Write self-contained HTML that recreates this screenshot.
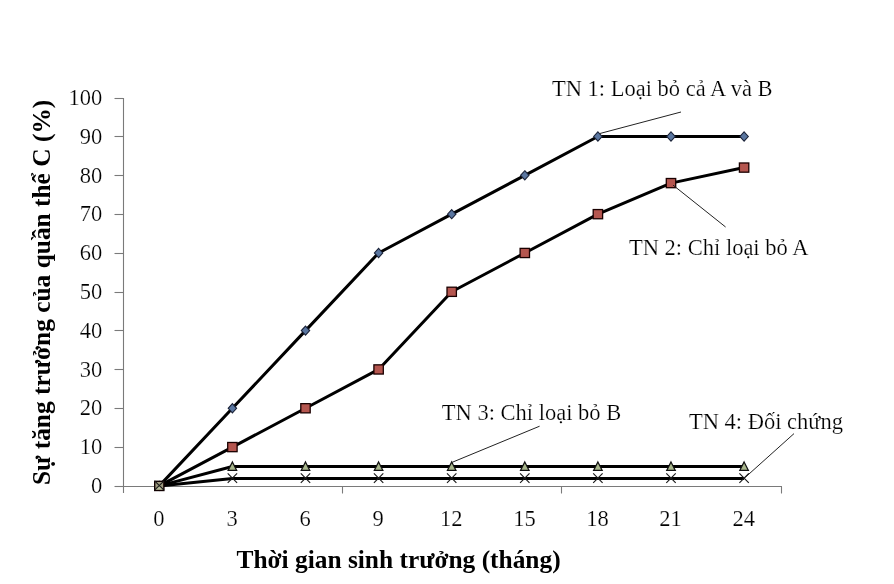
<!DOCTYPE html>
<html><head><meta charset="utf-8"><style>
html,body{margin:0;padding:0;background:#fff;}
body{width:894px;height:584px;overflow:hidden;}
svg{display:block;will-change:transform;font-family:"Liberation Serif",serif;fill:#000;}
text.r{stroke:#fff;stroke-width:0.2px;paint-order:fill stroke;}
</style></head><body>
<svg width="894" height="584" viewBox="0 0 894 584">
<line x1="123.5" y1="98" x2="123.5" y2="493.0" stroke="#7a7a7a" stroke-width="1.1"/>
<line x1="114.5" y1="486.50" x2="123.5" y2="486.50" stroke="#7a7a7a" stroke-width="1.1"/>
<text x="102.3" y="493.00" text-anchor="end" font-size="22.5" class="r">0</text>
<line x1="114.5" y1="447.50" x2="123.5" y2="447.50" stroke="#7a7a7a" stroke-width="1.1"/>
<text x="102.3" y="454.19" text-anchor="end" font-size="22.5" class="r">10</text>
<line x1="114.5" y1="408.50" x2="123.5" y2="408.50" stroke="#7a7a7a" stroke-width="1.1"/>
<text x="102.3" y="415.38" text-anchor="end" font-size="22.5" class="r">20</text>
<line x1="114.5" y1="369.50" x2="123.5" y2="369.50" stroke="#7a7a7a" stroke-width="1.1"/>
<text x="102.3" y="376.57" text-anchor="end" font-size="22.5" class="r">30</text>
<line x1="114.5" y1="330.50" x2="123.5" y2="330.50" stroke="#7a7a7a" stroke-width="1.1"/>
<text x="102.3" y="337.76" text-anchor="end" font-size="22.5" class="r">40</text>
<line x1="114.5" y1="292.50" x2="123.5" y2="292.50" stroke="#7a7a7a" stroke-width="1.1"/>
<text x="102.3" y="298.95" text-anchor="end" font-size="22.5" class="r">50</text>
<line x1="114.5" y1="253.50" x2="123.5" y2="253.50" stroke="#7a7a7a" stroke-width="1.1"/>
<text x="102.3" y="260.14" text-anchor="end" font-size="22.5" class="r">60</text>
<line x1="114.5" y1="214.50" x2="123.5" y2="214.50" stroke="#7a7a7a" stroke-width="1.1"/>
<text x="102.3" y="221.33" text-anchor="end" font-size="22.5" class="r">70</text>
<line x1="114.5" y1="175.50" x2="123.5" y2="175.50" stroke="#7a7a7a" stroke-width="1.1"/>
<text x="102.3" y="182.52" text-anchor="end" font-size="22.5" class="r">80</text>
<line x1="114.5" y1="136.50" x2="123.5" y2="136.50" stroke="#7a7a7a" stroke-width="1.1"/>
<text x="102.3" y="143.71" text-anchor="end" font-size="22.5" class="r">90</text>
<line x1="114.5" y1="98.50" x2="123.5" y2="98.50" stroke="#7a7a7a" stroke-width="1.1"/>
<text x="102.3" y="104.90" text-anchor="end" font-size="22.5" class="r">100</text>
<line x1="123.5" y1="486.5" x2="782" y2="486.5" stroke="#7a7a7a" stroke-width="1.1"/>
<line x1="342.5" y1="486.5" x2="342.5" y2="493.5" stroke="#7a7a7a" stroke-width="1.1"/>
<line x1="561.5" y1="486.5" x2="561.5" y2="493.5" stroke="#7a7a7a" stroke-width="1.1"/>
<line x1="781.5" y1="486.5" x2="781.5" y2="493.5" stroke="#7a7a7a" stroke-width="1.1"/>
<text x="158.90" y="525.5" text-anchor="middle" font-size="22.5" class="r">0</text>
<text x="232.00" y="525.5" text-anchor="middle" font-size="22.5" class="r">3</text>
<text x="305.10" y="525.5" text-anchor="middle" font-size="22.5" class="r">6</text>
<text x="378.20" y="525.5" text-anchor="middle" font-size="22.5" class="r">9</text>
<text x="451.30" y="525.5" text-anchor="middle" font-size="22.5" class="r">12</text>
<text x="524.40" y="525.5" text-anchor="middle" font-size="22.5" class="r">15</text>
<text x="597.50" y="525.5" text-anchor="middle" font-size="22.5" class="r">18</text>
<text x="670.60" y="525.5" text-anchor="middle" font-size="22.5" class="r">21</text>
<text x="743.70" y="525.5" text-anchor="middle" font-size="22.5" class="r">24</text>
<polyline points="159.30,485.90 232.40,408.26 305.50,330.62 378.60,252.98 451.70,214.16 524.80,175.34 597.90,136.50 671.00,136.50 744.10,136.50" fill="none" stroke="#000" stroke-width="3" stroke-linejoin="round"/>
<polyline points="159.30,485.90 232.40,447.08 305.50,408.26 378.60,369.44 451.70,291.80 524.80,252.98 597.90,214.16 671.00,183.10 744.10,167.58" fill="none" stroke="#000" stroke-width="3" stroke-linejoin="round"/>
<polyline points="159.30,485.90 232.40,466.50 305.50,466.50 378.60,466.50 451.70,466.50 524.80,466.50 597.90,466.50 671.00,466.50 744.10,466.50" fill="none" stroke="#000" stroke-width="3" stroke-linejoin="round"/>
<polyline points="159.30,485.90 232.40,478.50 305.50,478.50 378.60,478.50 451.70,478.50 524.80,478.50 597.90,478.50 671.00,478.50 744.10,478.50" fill="none" stroke="#000" stroke-width="3" stroke-linejoin="round"/>
<path d="M159.30,481.30L163.50,485.90L159.30,490.50L155.10,485.90Z" fill="#5A76A0" stroke="#1a2238" stroke-width="1.1"/>
<path d="M232.40,403.66L236.60,408.26L232.40,412.86L228.20,408.26Z" fill="#5A76A0" stroke="#1a2238" stroke-width="1.1"/>
<path d="M305.50,326.02L309.70,330.62L305.50,335.22L301.30,330.62Z" fill="#5A76A0" stroke="#1a2238" stroke-width="1.1"/>
<path d="M378.60,248.38L382.80,252.98L378.60,257.58L374.40,252.98Z" fill="#5A76A0" stroke="#1a2238" stroke-width="1.1"/>
<path d="M451.70,209.56L455.90,214.16L451.70,218.76L447.50,214.16Z" fill="#5A76A0" stroke="#1a2238" stroke-width="1.1"/>
<path d="M524.80,170.74L529.00,175.34L524.80,179.94L520.60,175.34Z" fill="#5A76A0" stroke="#1a2238" stroke-width="1.1"/>
<path d="M597.90,131.90L602.10,136.50L597.90,141.10L593.70,136.50Z" fill="#5A76A0" stroke="#1a2238" stroke-width="1.1"/>
<path d="M671.00,131.90L675.20,136.50L671.00,141.10L666.80,136.50Z" fill="#5A76A0" stroke="#1a2238" stroke-width="1.1"/>
<path d="M744.10,131.90L748.30,136.50L744.10,141.10L739.90,136.50Z" fill="#5A76A0" stroke="#1a2238" stroke-width="1.1"/>
<rect x="154.70" y="481.30" width="9.2" height="9.2" fill="#A09C80" stroke="#100" stroke-width="1.4"/>
<rect x="227.70" y="442.48" width="9.4" height="9.2" fill="#B5564F" stroke="#1a0000" stroke-width="1.3"/>
<rect x="300.80" y="403.66" width="9.4" height="9.2" fill="#B5564F" stroke="#1a0000" stroke-width="1.3"/>
<rect x="373.90" y="364.84" width="9.4" height="9.2" fill="#B5564F" stroke="#1a0000" stroke-width="1.3"/>
<rect x="447.00" y="287.20" width="9.4" height="9.2" fill="#B5564F" stroke="#1a0000" stroke-width="1.3"/>
<rect x="520.10" y="248.38" width="9.4" height="9.2" fill="#B5564F" stroke="#1a0000" stroke-width="1.3"/>
<rect x="593.20" y="209.56" width="9.4" height="9.2" fill="#B5564F" stroke="#1a0000" stroke-width="1.3"/>
<rect x="666.30" y="178.50" width="9.4" height="9.2" fill="#B5564F" stroke="#1a0000" stroke-width="1.3"/>
<rect x="739.40" y="162.98" width="9.4" height="9.2" fill="#B5564F" stroke="#1a0000" stroke-width="1.3"/>
<path d="M159.30,483.90L162.80,489.50L155.80,489.50Z" fill="#B8BC98"/>
<path d="M232.40,461.90L236.70,470.40L228.10,470.40Z" fill="#A8B68C" stroke="#111" stroke-width="1.2"/>
<path d="M305.50,461.90L309.80,470.40L301.20,470.40Z" fill="#A8B68C" stroke="#111" stroke-width="1.2"/>
<path d="M378.60,461.90L382.90,470.40L374.30,470.40Z" fill="#A8B68C" stroke="#111" stroke-width="1.2"/>
<path d="M451.70,461.90L456.00,470.40L447.40,470.40Z" fill="#A8B68C" stroke="#111" stroke-width="1.2"/>
<path d="M524.80,461.90L529.10,470.40L520.50,470.40Z" fill="#A8B68C" stroke="#111" stroke-width="1.2"/>
<path d="M597.90,461.90L602.20,470.40L593.60,470.40Z" fill="#A8B68C" stroke="#111" stroke-width="1.2"/>
<path d="M671.00,461.90L675.30,470.40L666.70,470.40Z" fill="#A8B68C" stroke="#111" stroke-width="1.2"/>
<path d="M744.10,461.90L748.40,470.40L739.80,470.40Z" fill="#A8B68C" stroke="#111" stroke-width="1.2"/>
<path d="M154.60,480.80L164.00,490.20M164.00,480.80L154.60,490.20" stroke="#1a1a1a" stroke-width="1.15"/>
<path d="M227.70,473.40L237.10,482.80M237.10,473.40L227.70,482.80" stroke="#1a1a1a" stroke-width="1.15"/>
<path d="M300.80,473.40L310.20,482.80M310.20,473.40L300.80,482.80" stroke="#1a1a1a" stroke-width="1.15"/>
<path d="M373.90,473.40L383.30,482.80M383.30,473.40L373.90,482.80" stroke="#1a1a1a" stroke-width="1.15"/>
<path d="M447.00,473.40L456.40,482.80M456.40,473.40L447.00,482.80" stroke="#1a1a1a" stroke-width="1.15"/>
<path d="M520.10,473.40L529.50,482.80M529.50,473.40L520.10,482.80" stroke="#1a1a1a" stroke-width="1.15"/>
<path d="M593.20,473.40L602.60,482.80M602.60,473.40L593.20,482.80" stroke="#1a1a1a" stroke-width="1.15"/>
<path d="M666.30,473.40L675.70,482.80M675.70,473.40L666.30,482.80" stroke="#1a1a1a" stroke-width="1.15"/>
<path d="M739.40,473.40L748.80,482.80M748.80,473.40L739.40,482.80" stroke="#1a1a1a" stroke-width="1.15"/>
<line x1="681" y1="112" x2="599.90" y2="133.50" stroke="#222" stroke-width="1"/>
<line x1="725.6" y1="227" x2="673.00" y2="185.10" stroke="#222" stroke-width="1"/>
<line x1="539.6" y1="426.2" x2="451.70" y2="462.50" stroke="#222" stroke-width="1"/>
<line x1="794" y1="433.6" x2="745.10" y2="477.50" stroke="#222" stroke-width="1"/>
<text x="552" y="95.6" font-size="22.5" class="r">TN 1: Loại bỏ cả A và B</text>
<text x="629" y="255" font-size="22.5" class="r">TN 2: Chỉ loại bỏ A</text>
<text x="441.8" y="420" font-size="22.5" class="r">TN 3: Chỉ loại bỏ B</text>
<text x="689" y="429" font-size="22.5" class="r">TN 4: Đối chứng</text>
<text x="236.5" y="568" font-size="25.4" font-weight="bold">Thời gian sinh trưởng (tháng)</text>
<text transform="translate(49.8,485) rotate(-90)" font-size="25.4" font-weight="bold">Sự tăng trưởng của quần thể C (%)</text>
</svg>
</body></html>
